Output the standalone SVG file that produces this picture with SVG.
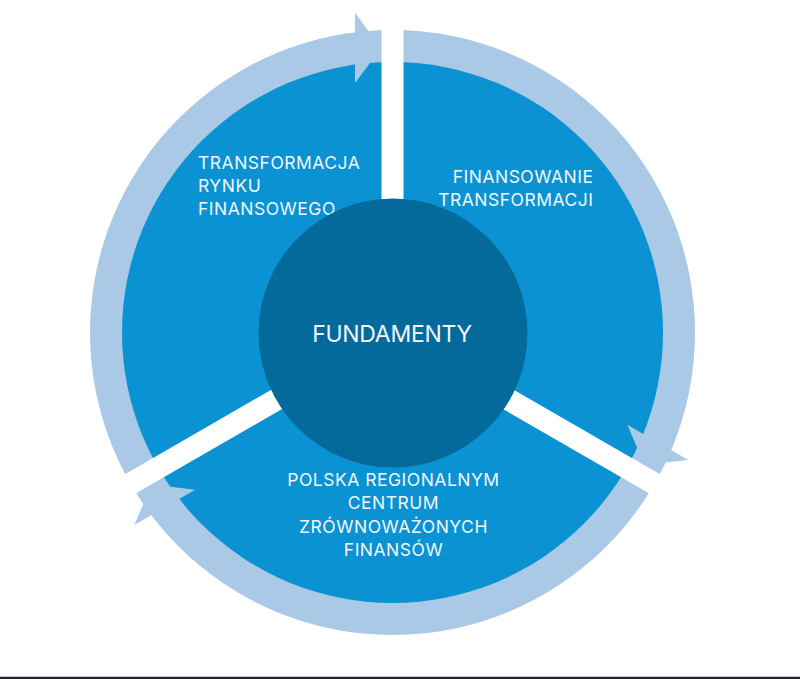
<svg xmlns="http://www.w3.org/2000/svg" width="800" height="679" viewBox="0 0 800 679">
<style>
.ring{fill:#a9c9e7}
.disk{fill:#0a92d3}
.arrow{fill:#a9c9e7}
.gap{fill:#ffffff}
.core{fill:#04699b}
.lbl{font-family:Inter,"Open Sans","Liberation Sans",sans-serif;fill:#f2f8fc;font-size:17.5px;letter-spacing:0.5px}
.core-lbl{font-family:Inter,"Open Sans","Liberation Sans",sans-serif;fill:#f2f8fc;font-size:23px;letter-spacing:-0.3px}
</style>
<defs>
<polygon id="head" points="355,12.7 381,48.3 355,83"/>
<rect id="bar" x="381.5" y="0" width="22" height="332.5"/>
</defs>
<rect width="800" height="679" fill="#ffffff"/>
<g id="cycle">
<circle class="ring" cx="392.5" cy="332.5" r="302.5"/>
<circle class="disk" cx="392.5" cy="332.5" r="270.5"/>
</g>
<g id="connectors">
<use href="#head" class="arrow"/>
<use href="#head" class="arrow" transform="rotate(120 392.5 332.5)"/>
<use href="#head" class="arrow" transform="rotate(240 392.5 332.5)"/>
<use href="#bar" class="gap"/>
<use href="#bar" class="gap" transform="rotate(120 392.5 332.5)"/>
<use href="#bar" class="gap" transform="rotate(240 392.5 332.5)"/>
</g>
<g id="node-transformacja-rynku">
<text class="lbl" x="198" y="168.5">TRANSFORMACJA</text>
<text class="lbl" x="198" y="191.5">RYNKU</text>
<text class="lbl" x="198" y="214.5">FINANSOWEGO</text>
</g>
<g id="node-finansowanie">
<text class="lbl" x="593.5" y="183" text-anchor="end">FINANSOWANIE</text>
<text class="lbl" x="593.5" y="205.5" text-anchor="end">TRANSFORMACJI</text>
</g>
<g id="node-polska">
<text class="lbl" x="393.5" y="486" text-anchor="middle">POLSKA REGIONALNYM</text>
<text class="lbl" x="393.5" y="509" text-anchor="middle">CENTRUM</text>
<text class="lbl" x="393.5" y="532.5" text-anchor="middle">ZRÓWNOWAŻONYCH</text>
<text class="lbl" x="393.5" y="555.5" text-anchor="middle">FINANSÓW</text>
</g>
<g id="node-fundamenty">
<circle class="core" cx="393" cy="333" r="134.5"/>
<text class="core-lbl" x="392" y="342" text-anchor="middle">FUNDAMENTY</text>
</g>
<rect x="0" y="676" width="800" height="1" fill="#c9c9cb"/>
<rect x="0" y="677" width="800" height="2" fill="#23252a"/>
</svg>
